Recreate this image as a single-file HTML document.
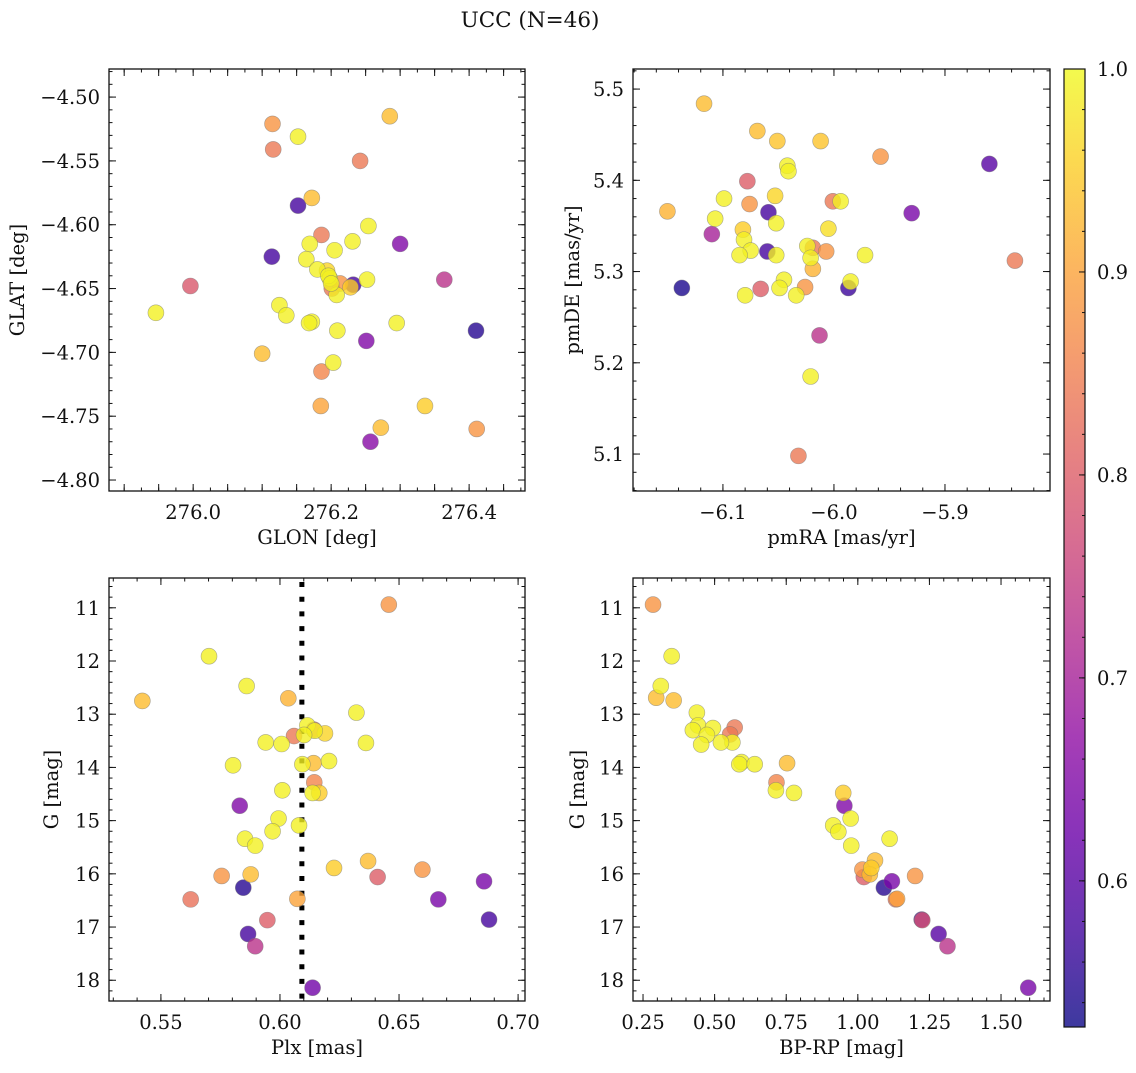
<!DOCTYPE html>
<html><head><meta charset="utf-8">
<style>
body{margin:0;background:#fff;}
svg text{font-family:"DejaVu Serif","Liberation Serif",serif;fill:#111;}
</style></head>
<body>
<svg id="fig" width="1136" height="1068" viewBox="0 0 1136 1068" xmlns="http://www.w3.org/2000/svg">
<rect width="1136" height="1068" fill="#fff"/>
<text x="530" y="27" font-size="21.5" text-anchor="middle">UCC (N=46)</text>
<defs><linearGradient id="cbgrad" x1="0" y1="1" x2="0" y2="0"></linearGradient></defs>
<g id="layer"></g>
</svg>
<script>
// ---- data ----
const p1Glon=[276.115,276.152,276.116,276.285,276.242,276.172,276.152,276.186,276.254,276.169,276.205,276.231,276.300,276.114,276.164,276.180,276.194,276.201,276.198,276.213,276.232,276.228,276.208,276.252,276.364,275.996,275.946,276.125,276.135,276.172,276.168,276.209,276.295,276.410,276.251,276.100,276.203,276.186,276.185,276.336,276.272,276.257,276.411,276.196,276.200];
const p1Glat=[-4.521,-4.531,-4.541,-4.515,-4.550,-4.579,-4.585,-4.608,-4.601,-4.615,-4.620,-4.613,-4.615,-4.625,-4.627,-4.635,-4.636,-4.650,-4.642,-4.646,-4.647,-4.649,-4.655,-4.643,-4.643,-4.648,-4.669,-4.663,-4.671,-4.676,-4.677,-4.683,-4.677,-4.683,-4.691,-4.701,-4.708,-4.715,-4.742,-4.742,-4.759,-4.770,-4.760,-4.640,-4.646];
const p1Prob=[0.88,0.99,0.84,0.93,0.84,0.93,0.58,0.84,0.99,0.99,0.99,0.99,0.65,0.58,0.99,0.99,0.96,0.84,0.99,0.88,0.58,0.95,0.99,0.99,0.73,0.79,0.99,0.99,0.99,0.99,0.99,0.99,0.99,0.55,0.65,0.93,0.99,0.86,0.90,0.95,0.93,0.66,0.88,0.99,0.99];
const p2PmRA=[-6.117,-6.069,-6.051,-6.012,-5.958,-5.860,-6.042,-6.041,-6.078,-6.099,-6.053,-6.076,-6.001,-5.994,-6.150,-6.059,-5.930,-6.107,-6.052,-6.110,-6.082,-6.005,-6.081,-6.075,-6.085,-6.060,-6.052,-6.019,-6.024,-6.007,-6.021,-6.019,-5.972,-5.837,-6.137,-6.066,-6.045,-6.049,-6.080,-6.034,-6.026,-5.987,-5.985,-6.013,-6.021,-6.032];
const p2PmDE=[5.484,5.454,5.443,5.443,5.426,5.418,5.416,5.410,5.399,5.380,5.383,5.374,5.377,5.377,5.366,5.365,5.364,5.358,5.353,5.341,5.346,5.347,5.335,5.323,5.318,5.322,5.318,5.326,5.328,5.322,5.315,5.303,5.318,5.312,5.282,5.281,5.291,5.282,5.274,5.274,5.283,5.282,5.289,5.230,5.185,5.098];
const p2Prob=[0.93,0.93,0.94,0.94,0.88,0.60,0.99,0.99,0.80,0.99,0.96,0.88,0.84,0.99,0.92,0.58,0.64,0.99,0.99,0.70,0.95,0.97,0.99,0.99,0.99,0.58,0.99,0.84,0.99,0.88,0.99,0.92,0.99,0.84,0.54,0.80,0.99,0.99,0.99,0.99,0.88,0.57,0.99,0.73,0.99,0.84];
const p3Plx=[0.6457,0.5702,0.5860,0.5422,0.6035,0.6321,0.6115,0.6143,0.6146,0.6189,0.6101,0.6059,0.5940,0.6007,0.6361,0.5803,0.6094,0.6141,0.6206,0.6144,0.6165,0.6137,0.6010,0.5831,0.5994,0.6080,0.5969,0.5853,0.5896,0.6370,0.6227,0.6598,0.5755,0.5877,0.6410,0.6857,0.5846,0.5625,0.6073,0.6665,0.5947,0.6878,0.5866,0.5896,0.6137];
const p3G=[10.94,11.91,12.47,12.75,12.70,12.97,13.21,13.29,13.31,13.36,13.39,13.41,13.53,13.56,13.54,13.96,13.94,13.92,13.88,14.28,14.48,14.48,14.43,14.72,14.96,15.09,15.20,15.34,15.47,15.76,15.89,15.92,16.04,16.01,16.06,16.14,16.26,16.48,16.47,16.48,16.87,16.86,17.13,17.36,18.14];
const p3Prob=[0.88,0.99,0.99,0.93,0.92,0.99,0.99,0.84,0.99,0.96,0.99,0.84,0.99,0.99,0.99,0.99,0.99,0.93,0.99,0.86,0.95,0.99,0.99,0.65,0.99,0.99,0.99,0.99,0.99,0.93,0.95,0.88,0.88,0.93,0.80,0.64,0.55,0.83,0.90,0.64,0.80,0.58,0.58,0.73,0.63];
const p4BpRp=[0.285,0.350,0.312,0.296,0.357,0.438,0.442,0.424,0.494,0.473,0.453,0.570,0.554,0.562,0.522,0.594,0.586,0.640,0.753,0.716,0.714,0.777,0.949,0.953,0.975,0.914,0.932,0.977,1.111,1.060,1.016,1.021,1.042,1.047,1.200,1.119,1.091,1.133,1.137,1.223,1.225,1.282,1.313,1.595];
const p4G=[10.94,11.91,12.47,12.69,12.74,12.97,13.21,13.30,13.26,13.39,13.57,13.25,13.38,13.53,13.53,13.90,13.94,13.94,13.92,14.28,14.43,14.48,14.48,14.72,14.96,15.09,15.21,15.47,15.34,15.75,15.92,16.06,16.01,15.89,16.04,16.14,16.26,16.48,16.47,16.86,16.87,17.13,17.36,18.14];
const p4Prob=[0.88,0.99,0.99,0.93,0.93,0.99,0.99,0.99,0.99,0.99,0.99,0.84,0.84,0.99,0.99,0.99,0.99,0.99,0.93,0.86,0.99,0.99,0.95,0.65,0.99,0.99,0.99,0.99,0.99,0.93,0.88,0.80,0.93,0.95,0.88,0.64,0.55,0.83,0.90,0.58,0.78,0.60,0.73,0.64];
const cbTicks=[0.6,0.7,0.8,0.9,1.0];
const pMin=0.528, pMax=1.0;
const plx0=0.6092;

const NS="http://www.w3.org/2000/svg";
const layer=document.getElementById('layer');
const FS=19.5;
function mk(tag,attrs,parent){const e=document.createElementNS(NS,tag);for(const k in attrs)e.setAttribute(k,attrs[k]);(parent||layer).appendChild(e);return e;}
const plasma=["#0d0887","#41049d","#6a00a8","#8f0da4","#b12a90","#cc4778","#e16462","#f2844b","#fca636","#fcce25","#f0f921"];
function hex(h){return [parseInt(h.substr(1,2),16),parseInt(h.substr(3,2),16),parseInt(h.substr(5,2),16)];}
function cmap(t){t=Math.max(0,Math.min(1,t));const f=t*10,i=Math.min(9,Math.floor(f)),r=f-i;const a=hex(plasma[i]),b=hex(plasma[i+1]);return 'rgb('+a.map((v,k)=>Math.round(v+(b[k]-v)*r)).join(',')+')';}
function pcol(p){return cmap((p-pMin)/(pMax-pMin));}
function fmt(v,d){return (v<0?'\u2212':'')+Math.abs(v).toFixed(d);}

function panel(o){
  const sx=v=>o.L+(v-o.xa)/(o.xb-o.xa)*(o.R-o.L);
  const sy=v=>o.B-(v-o.ya)/(o.yb-o.ya)*(o.B-o.T);
  const g=mk('g',{});
  
  
  const tg=mk('g',{stroke:'#111','stroke-width':1},g);
  function ticksX(step,len){const s=Math.ceil(Math.min(o.xa,o.xb)/step-1e-6);for(let k=s;k*step<=Math.max(o.xa,o.xb)+1e-9;k++){const x=sx(k*step);mk('line',{x1:x,x2:x,y1:o.B,y2:o.B-len},tg);mk('line',{x1:x,x2:x,y1:o.T,y2:o.T+len},tg);}}
  function ticksY(step,len){const lo=Math.min(o.ya,o.yb),hi=Math.max(o.ya,o.yb);const s=Math.ceil(lo/step-1e-6);for(let k=s;k*step<=hi+1e-9;k++){const y=sy(k*step);mk('line',{x1:o.L,x2:o.L+len,y1:y,y2:y},tg);mk('line',{x1:o.R,x2:o.R-len,y1:y,y2:y},tg);}}
  ticksX(o.xmin,3.5);ticksX(o.xmaj,7);ticksY(o.ymin,3.5);ticksY(o.ymaj,7);
  o.xlab.forEach(v=>{const t=mk('text',{x:sx(v),y:o.B+28,'font-size':FS,'text-anchor':'middle'},g);t.textContent=fmt(v,o.xd);
    
    });
  o.ylab.forEach(v=>{const t=mk('text',{x:o.L-9,y:sy(v)+7,'font-size':FS,'text-anchor':'end'},g);t.textContent=fmt(v,o.yd);
    
    });
  const xt=mk('text',{x:(o.L+o.R)/2,y:o.B+53,'font-size':FS,'text-anchor':'middle'},g);xt.textContent=o.xt;
  
  
  const yx=o.ytx, yy=(o.T+o.B)/2;
  const yt=mk('text',{x:yx,y:yy,'font-size':FS,'text-anchor':'middle',transform:'rotate(-90 '+yx+' '+yy+')'},g);yt.textContent=o.yt;
  
  
  if(o.vline!==undefined){const x=sx(o.vline);const l=mk('line',{x1:x,x2:x,y1:o.T+4,y2:o.B,stroke:'#000','stroke-width':5,'stroke-dasharray':'5 9.7'},g);
    
    }
  const cg=mk('g',{},g);
  const idx=o.p.map((v,i)=>i).sort((a,b)=>o.p[a]-o.p[b]);
  idx.forEach(i=>{const c=mk('circle',{cx:sx(o.x[i]),cy:sy(o.y[i]),r:8,fill:pcol(o.p[i]),'fill-opacity':0.8,stroke:'#777','stroke-opacity':0.6,'stroke-width':0.6},cg);
    
    });
  const fr=mk('rect',{x:o.L,y:o.T,width:o.R-o.L,height:o.B-o.T,fill:'none',stroke:'#111','stroke-width':1.3},g);
  
  
}
panel({name:'glon-glat-panel',L:109,R:525,T:69,B:491,xa:275.878,xb:276.481,ya:-4.8086,yb:-4.478,xmaj:0.05,xmin:0.025,ymaj:0.05,ymin:0.01,xlab:[276.0,276.2,276.4],xd:1,ylab:[-4.5,-4.55,-4.6,-4.65,-4.7,-4.75,-4.8],yd:2,xt:'GLON [deg]',yt:'GLAT [deg]',ytx:24,x:p1Glon,y:p1Glat,p:p1Prob});
panel({name:'proper-motion-panel',L:633,R:1050,T:69,B:491,xa:-6.181,xb:-5.8054,ya:5.0595,yb:5.522,xmaj:0.1,xmin:0.02,ymaj:0.1,ymin:0.02,xlab:[-6.1,-6.0,-5.9],xd:1,ylab:[5.1,5.2,5.3,5.4,5.5],yd:1,xt:'pmRA [mas/yr]',yt:'pmDE [mas/yr]',ytx:579,x:p2PmRA,y:p2PmDE,p:p2Prob});
panel({name:'plx-g-panel',L:109,R:525,T:578,B:1001,xa:0.5282,xb:0.7029,ya:18.39,yb:10.44,xmaj:0.05,xmin:0.01,ymaj:1,ymin:0.2,xlab:[0.55,0.6,0.65,0.7],xd:2,ylab:[11,12,13,14,15,16,17,18],yd:0,xt:'Plx [mas]',yt:'G [mag]',ytx:58,x:p3Plx,y:p3G,p:p3Prob,vline:plx0});
panel({name:'cmd-panel',L:633,R:1050,T:578,B:1001,xa:0.215,xb:1.671,ya:18.39,yb:10.44,xmaj:0.25,xmin:0.05,ymaj:1,ymin:0.2,xlab:[0.25,0.5,0.75,1.0,1.25,1.5],xd:2,ylab:[11,12,13,14,15,16,17,18],yd:0,xt:'BP-RP [mag]',yt:'G [mag]',ytx:584,x:p4BpRp,y:p4G,p:p4Prob});

// colorbar
const grad=document.getElementById('cbgrad');
for(let k=0;k<=10;k++){mk('stop',{offset:(k*10)+'%','stop-color':plasma[k],'stop-opacity':0.8},grad);}
const cbT=69,cbB=1027,cbL=1064,cbR=1085;
const cy=v=>cbB-(v-pMin)/(pMax-pMin)*(cbB-cbT);
const cb=mk('rect',{x:cbL,y:cbT,width:cbR-cbL,height:cbB-cbT,fill:'url(#cbgrad)',stroke:'#111','stroke-width':1.2});


for(let v=0.54;v<=1.0001;v+=0.02){const y=cy(v);mk('line',{x1:cbR,x2:cbR-3,y1:y,y2:y,stroke:'#111','stroke-width':1});}
cbTicks.forEach(v=>{const y=cy(v);mk('line',{x1:cbR,x2:cbR-6,y1:y,y2:y,stroke:'#111','stroke-width':1});
  const t=mk('text',{x:cbR+12,y:y+7,'font-size':FS});t.textContent=v.toFixed(1);
  
  });
</script>
</body></html>
